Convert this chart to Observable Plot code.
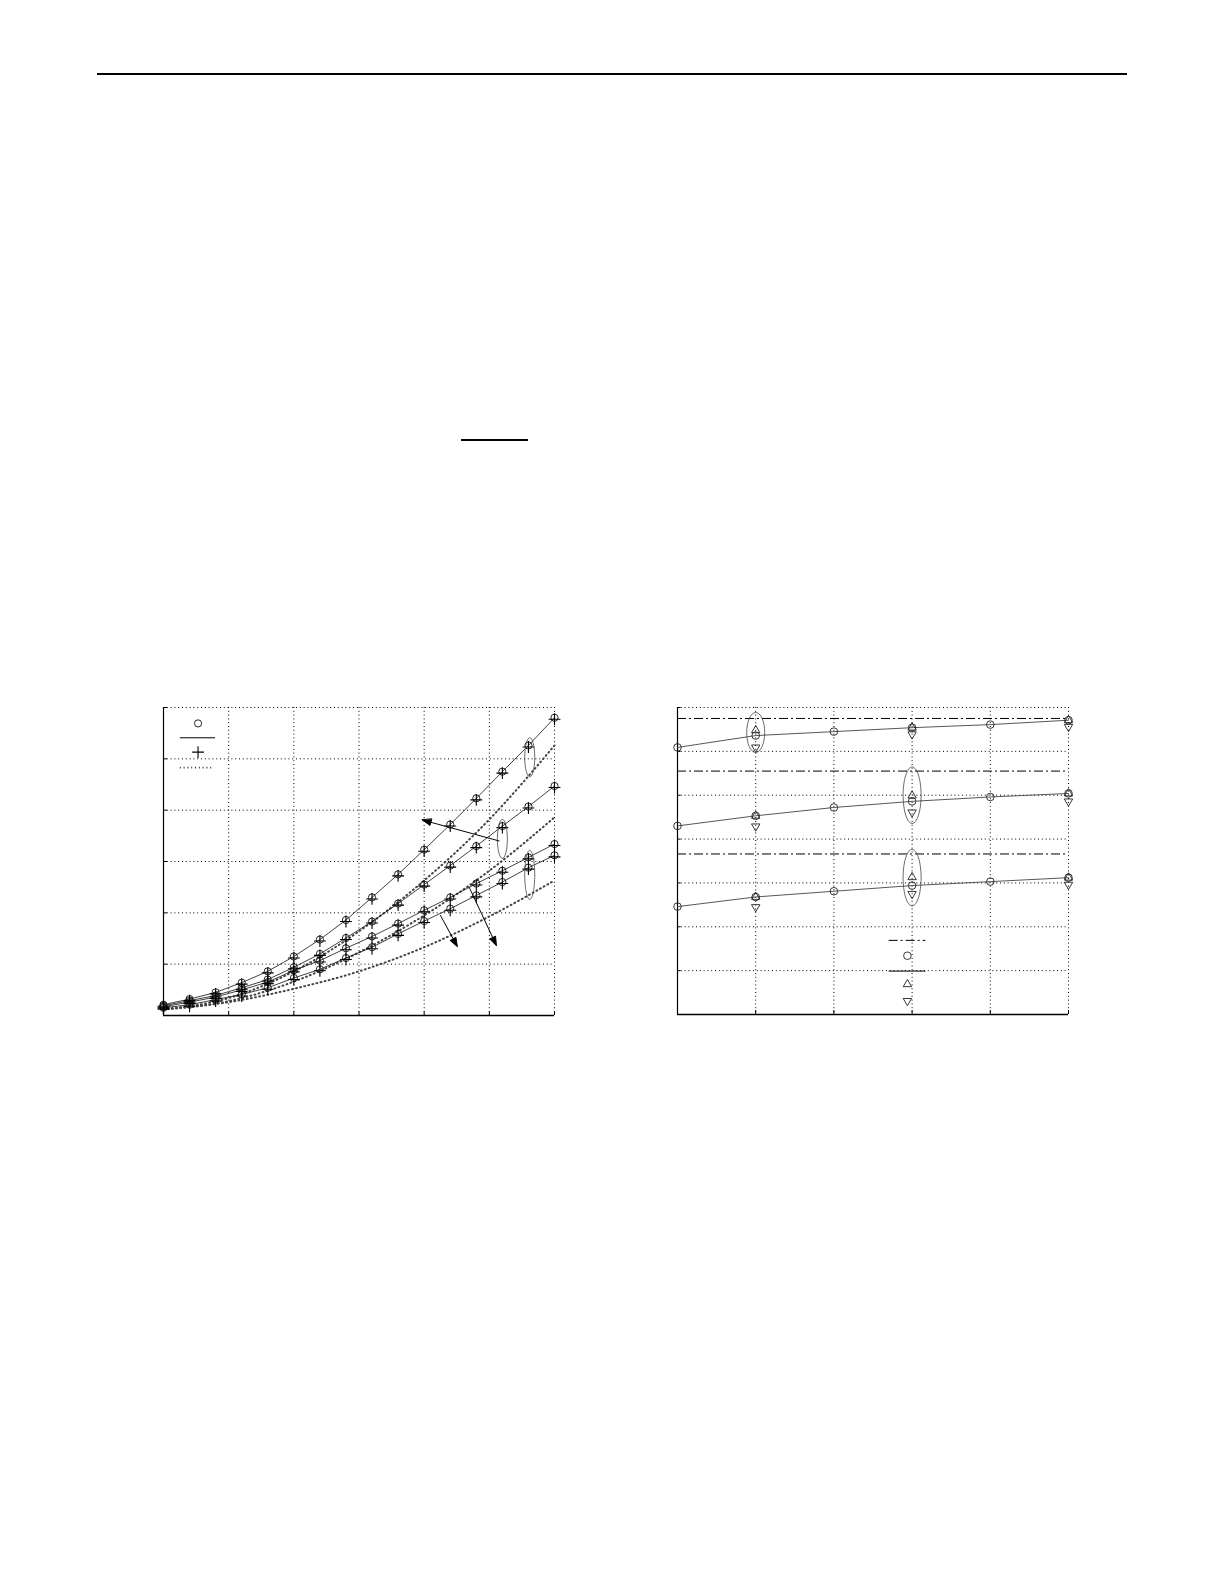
<!DOCTYPE html>
<html><head><meta charset="utf-8">
<script src="https://cdn.jsdelivr.net/npm/d3@7"></script>
<script src="https://cdn.jsdelivr.net/npm/@observablehq/plot@0.6"></script>
<style>
html,body{margin:0;padding:0;background:#fff;}
#page{position:relative;width:1225px;height:1585px;background:#fff;overflow:hidden;}
.abs{position:absolute;}
</style></head><body><div id="page">
<div class="abs" style="left:97px;top:73px;width:1030px;height:2px;background:#000"></div>
<div class="abs" style="left:461px;top:439px;width:67px;height:2px;background:#000"></div>
<div id="left" class="abs" style="left:153px;top:697px"></div>
<div id="right" class="abs" style="left:667px;top:697px"></div>
</div>
<script>
// ---------- left chart data ----------
const leftX = [0,0.4,0.8,1.2,1.6,2.0,2.4,2.8,3.2,3.6,4.0,4.4,4.8,5.2,5.6,6.0];
const s1 = [0.21,0.32,0.45,0.64,0.86,1.15,1.48,1.86,2.30,2.75,3.23,3.72,4.23,4.75,5.26,5.80];
const s2 = [0.19,0.29,0.39,0.54,0.70,0.94,1.20,1.51,1.83,2.18,2.55,2.92,3.30,3.69,4.07,4.47];
const s3 = [0.17,0.26,0.36,0.50,0.65,0.88,1.07,1.31,1.54,1.79,2.05,2.30,2.57,2.82,3.08,3.34];
const s4 = [0.15,0.21,0.31,0.41,0.54,0.73,0.90,1.12,1.33,1.59,1.84,2.08,2.34,2.60,2.88,3.12];
const theoryX = [0,1,2,3,4,5,6];
const d1 = [0.12,0.34,0.86,1.64,2.63,3.82,5.26];
const d2 = [0.12,0.28,0.66,1.23,1.95,2.82,3.86];
const d3 = [0.12,0.26,0.52,0.86,1.33,1.93,2.63];
const leftXTicks = [0,1,2,3,4,5,6];
const leftYTicks = [0,1,2,3,4,5,6];
// annotations (data coordinates)
const leftArrows = [
  {x1:5.15, y1:3.40, x2:3.97, y2:3.81},
  {x1:4.25, y1:1.95, x2:4.51, y2:1.34},
  {x1:4.69, y1:2.50, x2:5.11, y2:1.36}
];
const leftEllipses = [
  {x:5.62, y:5.03, ry:19.5},
  {x:5.20, y:3.44, ry:19.5},
  {x:5.62, y:2.74, ry:24.5}
];
const leftLegend = {circle:{x:0.53,y:5.69}, solid:{x1:0.25,x2:0.79,y:5.41}, plus:{x:0.53,y:5.13}, dotted:{x1:0.25,x2:0.75,y:4.83}};

// ---------- right chart data ----------
const rightX = [0,1,2,3,4,5];
const r1 = [6.09,6.36,6.45,6.54,6.61,6.71];
const r2 = [4.30,4.53,4.72,4.86,4.96,5.04];
const r3 = [2.46,2.68,2.81,2.94,3.03,3.12];
const triX = [1,3,5];
const up1 = [6.48,6.54,6.71], up2 = [4.53,4.99,5.04], up3 = [2.68,3.13,3.12];
const down1 = [6.09,6.39,6.56], down2 = [4.29,4.61,4.86], down3 = [2.45,2.75,2.96];
const bounds = [6.75,5.55,3.66];
const rightXTicks = [0,1,2,3,4,5];
const rightYTicks = [0,1,2,3,4,5,6,7];
const rightEllipses = [
  {x:1, y:6.43, ry:20},
  {x:3, y:5.00, ry:28.3},
  {x:3, y:3.12, ry:28.3}
];
const rightLegend = {dashdot:{x1:2.70,x2:3.17,y:1.69}, circle:{x:2.94,y:1.34}, solid:{x1:2.70,x2:3.17,y:0.99}, up:{x:2.94,y:0.69}, down:{x:2.94,y:0.31}};

// ---------- helpers ----------
function ellipseSymbol(rx, ry){
  const k = 0.5523;
  return {draw(ctx){
    ctx.moveTo(rx,0);
    ctx.bezierCurveTo(rx, ry*k, rx*k, ry, 0, ry);
    ctx.bezierCurveTo(-rx*k, ry, -rx, ry*k, -rx, 0);
    ctx.bezierCurveTo(-rx, -ry*k, -rx*k, -ry, 0, -ry);
    ctx.bezierCurveTo(rx*k, -ry, rx, -ry*k, rx, 0);
    ctx.closePath();
  }};
}
const arrowShape = {draw(ctx, l){
  const h = 9, w = 3.2;
  ctx.moveTo(0,0); ctx.lineTo(0,-l+h);
  ctx.moveTo(0,-l); ctx.lineTo(-w,-l+h); ctx.lineTo(w,-l+h); ctx.closePath();
}};
const GRID = {stroke:"#000", strokeWidth:1, strokeDasharray:"1,2.8"};
const THEORY = {stroke:"#444", strokeWidth:2, strokeDasharray:"0.9,3.3"};

// ---------- left chart ----------
const LW = 411, LH = 328, LM = 10;
const kxL = (LW-2*LM)/6, kyL = (LH-2*LM)/6;
const toRows = (xs, arr) => arr.flatMap((s,k)=>s.map((v,i)=>({series:k, x:xs[i], y:v})));
const leftRows = toRows(leftX, [s1,s2,s3,s4]);
const theoryRows = toRows(theoryX, [d1,d2,d3]);

const leftMarks = [
  Plot.ruleX(leftXTicks.slice(1), {x:d=>d, ...GRID}),
  Plot.ruleY(leftYTicks.slice(1), {y:d=>d, ...GRID}),
  Plot.ruleX(leftXTicks, {x:d=>d, y1:0, y2:0.07, stroke:"#000"}),
  Plot.ruleY(leftYTicks, {y:d=>d, x1:0, x2:0.06, stroke:"#000"}),
  Plot.ruleX([0], {stroke:"#000", strokeWidth:1.2}),
  Plot.ruleY([0], {stroke:"#000", strokeWidth:1.5}),
  Plot.line(theoryRows, {x:"x", y:"y", z:"series", curve:"monotone-x", ...THEORY}),
  Plot.line(leftRows, {x:"x", y:"y", z:"series", stroke:"#111", strokeWidth:0.8}),
  Plot.dot(leftRows, {x:"x", y:"y", r:3.6, stroke:"#111", strokeWidth:0.9, fill:"none"}),
  Plot.dot(leftRows, {x:"x", y:"y", symbol:"plus", r:3.9, stroke:"#000", strokeWidth:1.1, dy:1.5}),
  ...leftEllipses.map(e => Plot.dot([e], {x:"x", y:"y", symbol:ellipseSymbol(5, e.ry), stroke:"#444", strokeWidth:0.8, fill:"none"})),
  ...leftArrows.map(a => {
    const dxp = (a.x2-a.x1)*kxL, dyp = -(a.y2-a.y1)*kyL;
    const len = Math.hypot(dxp, dyp);
    const rot = Math.atan2(dxp, -dyp)*180/Math.PI;
    return Plot.vector([a], {x:"x1", y:"y1", anchor:"start", length:len, rotate:rot, shape:arrowShape, stroke:"#000", fill:"#000", strokeWidth:0.9});
  }),
  // legend
  Plot.dot([leftLegend.circle], {x:"x", y:"y", r:3.6, stroke:"#111", strokeWidth:0.9, fill:"none"}),
  Plot.link([leftLegend.solid], {x1:"x1", x2:"x2", y1:"y", y2:"y", stroke:"#000", strokeWidth:1}),
  Plot.dot([leftLegend.plus], {x:"x", y:"y", symbol:"plus", r:3.9, stroke:"#000", strokeWidth:1.1}),
  Plot.link([leftLegend.dotted], {x1:"x1", x2:"x2", y1:"y", y2:"y", stroke:"#333", strokeWidth:1.7, strokeDasharray:"1,2.8"})
];
document.getElementById("left").append(Plot.plot({
  width:LW, height:LH, marginLeft:LM, marginRight:LM, marginTop:LM, marginBottom:LM,
  x:{domain:[0,6], axis:null}, y:{domain:[0,6], axis:null},
  style:{background:"transparent", overflow:"visible"},
  marks:leftMarks
}));

// ---------- right chart ----------
const RW = 411, RH = 327, RM = 10;
const rightRows = toRows(rightX, [r1,r2,r3]);
const upRows = toRows(triX, [up1,up2,up3]);
const downRows = toRows(triX, [down1,down2,down3]);
const MK = {stroke:"#222", strokeWidth:0.9, fill:"none"};
const rightMarks = [
  Plot.ruleX(rightXTicks.slice(1), {x:d=>d, ...GRID}),
  Plot.ruleY(rightYTicks.slice(1), {y:d=>d, ...GRID}),
  Plot.ruleX(rightXTicks, {x:d=>d, y1:0, y2:0.09, stroke:"#000"}),
  Plot.ruleY(rightYTicks, {y:d=>d, x1:0, x2:0.045, stroke:"#000"}),
  Plot.ruleX([0], {stroke:"#000", strokeWidth:1.2}),
  Plot.ruleY([0], {stroke:"#000", strokeWidth:1.5}),
  Plot.ruleY(bounds, {y:d=>d, stroke:"#000", strokeWidth:1, strokeDasharray:"9,3,2,3"}),
  Plot.line(rightRows, {x:"x", y:"y", z:"series", stroke:"#444", strokeWidth:0.9}),
  Plot.dot(rightRows, {x:"x", y:"y", r:3.8, ...MK}),
  Plot.dot(upRows, {x:"x", y:"y", symbol:"triangle2", r:4, ...MK}),
  Plot.dot(downRows, {x:"x", y:"y", symbol:"triangle2", rotate:180, r:4, ...MK}),
  ...rightEllipses.map(e => Plot.dot([e], {x:"x", y:"y", symbol:ellipseSymbol(9, e.ry), stroke:"#444", strokeWidth:0.8, fill:"none"})),
  // legend
  Plot.link([rightLegend.dashdot], {x1:"x1", x2:"x2", y1:"y", y2:"y", stroke:"#000", strokeWidth:1, strokeDasharray:"9,3,2,3"}),
  Plot.dot([rightLegend.circle], {x:"x", y:"y", r:3.8, ...MK}),
  Plot.link([rightLegend.solid], {x1:"x1", x2:"x2", y1:"y", y2:"y", stroke:"#000", strokeWidth:1}),
  Plot.dot([rightLegend.up], {x:"x", y:"y", symbol:"triangle2", r:4, ...MK}),
  Plot.dot([rightLegend.down], {x:"x", y:"y", symbol:"triangle2", rotate:180, r:4, ...MK})
];
document.getElementById("right").append(Plot.plot({
  width:RW, height:RH, marginLeft:RM, marginRight:RM, marginTop:RM, marginBottom:RM,
  x:{domain:[0,5], axis:null}, y:{domain:[0,7], axis:null},
  style:{background:"transparent", overflow:"visible"},
  marks:rightMarks
}));
</script>
</body></html>
